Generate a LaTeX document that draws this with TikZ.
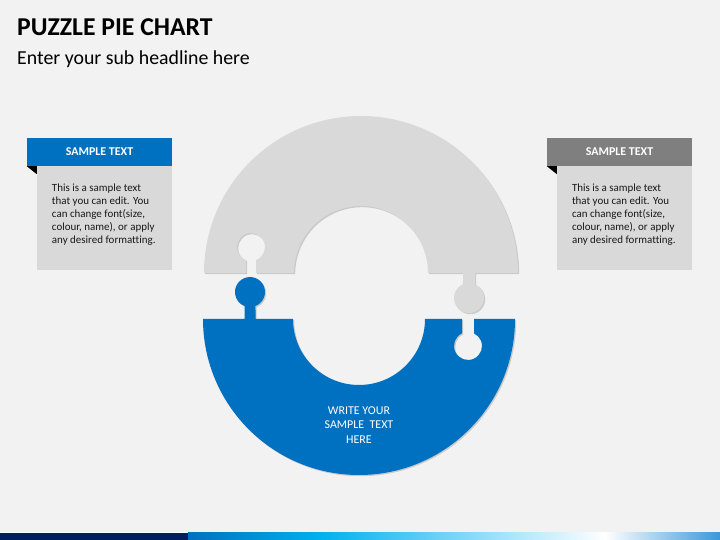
\documentclass[tikz,border=0pt]{standalone}
\usepackage{fontspec}
\setmainfont{Carlito}[Ligatures = NoCommon]
\usetikzlibrary{shadows, positioning}
\definecolor{slideBg}{HTML}{F2F2F2}
\definecolor{pieBlue}{HTML}{0070C0}
\definecolor{pieGrey}{HTML}{D9D9D9}
\definecolor{headGrey}{HTML}{7F7F7F}
\definecolor{barNavy}{HTML}{002060}
\definecolor{barCyan}{HTML}{00B0F0}
\definecolor{barEnd}{HTML}{3A97DA}
\tikzstyle{header} = [rectangle, text centered, minimum width = 145bp, minimum height = 28bp, inner sep = 0, text = white, font = \bfseries\fontsize{12}{14}\selectfont]
\tikzstyle{bodyBox} = [rectangle, fill = pieGrey, minimum width = 135bp, minimum height = 104bp, inner sep = 0]
\tikzstyle{bodyText} = [align = left, inner sep = 0, text = black!90, font = \fontsize{11}{13.2}\selectfont]
\tikzstyle{piece} = [drop shadow = {opacity = 0.35, shadow xshift = 1.2bp, shadow yshift = -1.2bp}]

\begin{document}
\begin{tikzpicture}[x = 1bp, y = 1bp]
    % background
    \fill [slideBg] (0,0) rectangle (720,540);

    \node (title) [anchor = base west, inner sep = 0, font = \bfseries\fontsize{25.8}{30}\selectfont] at (17,504) {PUZZLE PIE CHART};
    \node (subTitle) [anchor = base west, inner sep = 0, font = \fontsize{19.9}{24}\selectfont] at (17,475) {Enter your sub headline here};

    % upper piece
    \fill [pieGrey, piece] (204,267) arc (180:0:157) -- (475,267) -- (475,255.7) arc (66.4:-246.4:15) -- (463,267) -- (428,267) arc (0:180:67) -- (256,267) -- (256,279.9) arc (-69.1:249.1:14) -- (246,267) -- cycle;
    % lower piece
    \fill [pieBlue, piece] (203,221) -- (244.5,221) -- (244.5,234) arc (248.5:-68.5:15) -- (255.5,221) -- (293,221) arc (180:360:66) -- (462,221) -- (462,206.65) arc (115.4:424.6:14) -- (474,221) -- (515,221) arc (0:-180:156) -- cycle;
    \node (pieText) [align = center, text = white, font = \fontsize{12}{14.5}\selectfont] at (359,115) {WRITE YOUR\\SAMPLE \ TEXT\\HERE};

    % left box
    \node (headL) [header, fill = pieBlue] at (99.5,388) {SAMPLE TEXT};
    \node (bodyL) [bodyBox, anchor = north east] at (headL.south east) {};
    \fill [black] (headL.south west) -- ++(10,0) -- ++(0,-8) -- cycle;
    \node (txtL) [bodyText, anchor = north west] at ([shift = {(15,-17)}]bodyL.north west) {This is a sample text\\that you can edit. You\\can change font(size,\\colour, name), or apply\\any desired formatting.};

    % right box
    \node (headR) [header, fill = headGrey] at (619.5,388) {SAMPLE TEXT};
    \node (bodyR) [bodyBox, anchor = north east] at (headR.south east) {};
    \fill [black] (headR.south west) -- ++(10,0) -- ++(0,-8) -- cycle;
    \node (txtR) [bodyText, anchor = north west] at ([shift = {(15,-17)}]bodyR.north west) {This is a sample text\\that you can edit. You\\can change font(size,\\colour, name), or apply\\any desired formatting.};

    % bottom bar
    \fill [white] (0,7) rectangle (720,8);
    \fill [barNavy] (0,0) rectangle (188,7);
    \shade [left color = pieBlue, right color = barCyan] (188,0) rectangle (320,7);
    \shade [left color = barCyan, right color = white] (320,0) rectangle (605,7);
    \shade [left color = white, right color = barEnd] (605,0) rectangle (720,7);
\end{tikzpicture}
\end{document}
